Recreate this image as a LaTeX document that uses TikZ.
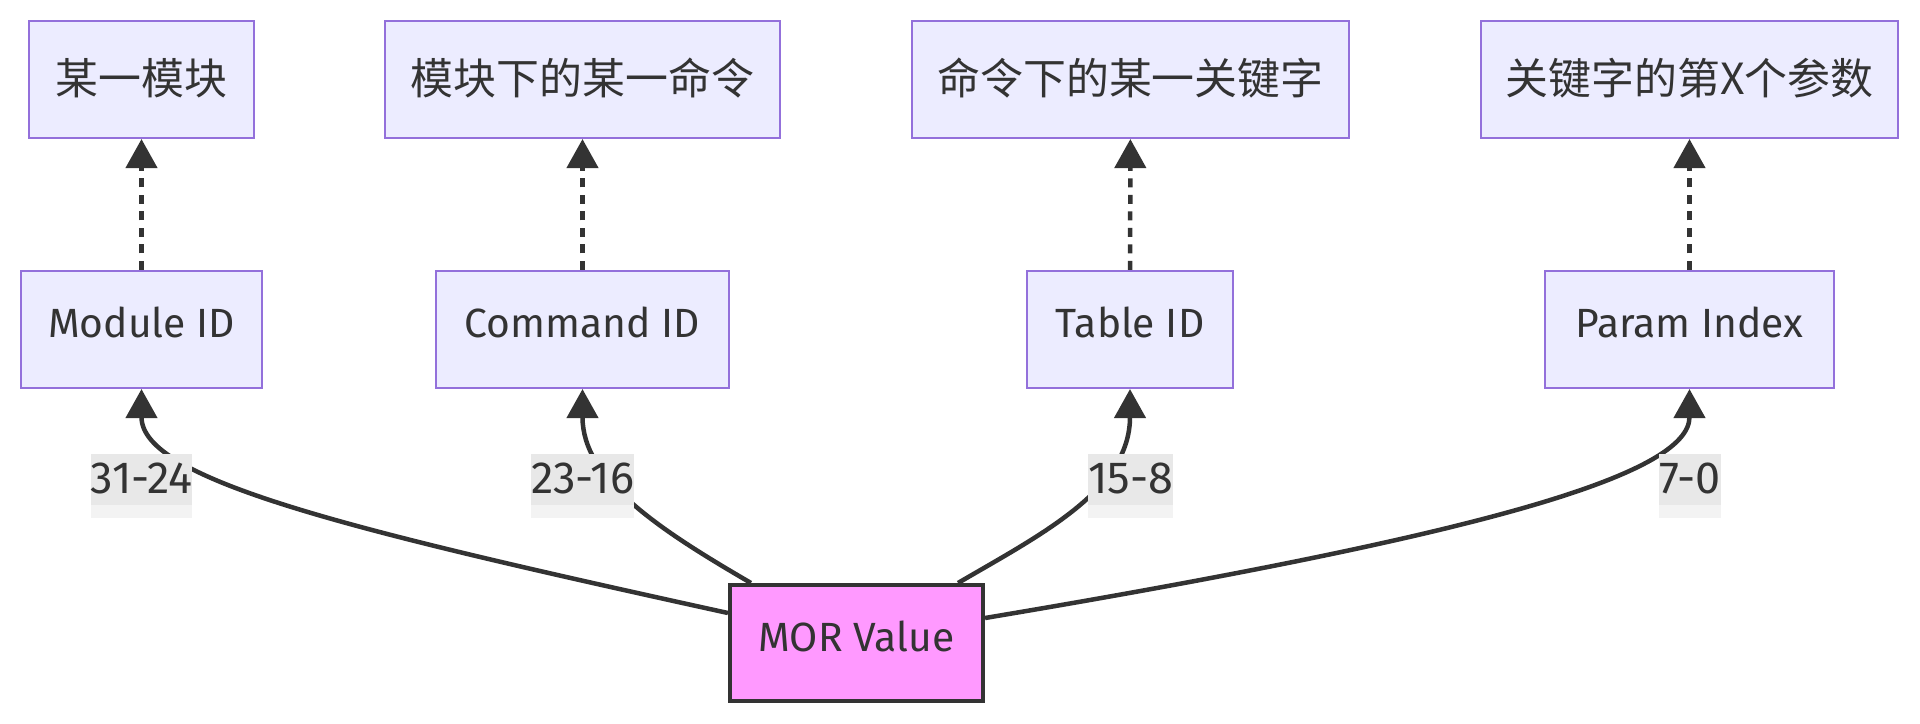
\documentclass[tikz,border=0pt]{standalone}
\usepackage{fontspec}
\setmainfont{Fira Sans}
\newfontfamily\cjk{Noto Sans CJK SC}
\usetikzlibrary{arrows.meta}
\definecolor{boxfill}{HTML}{ECECFF}
\definecolor{boxline}{HTML}{9370DB}
\definecolor{ink}{HTML}{333333}
\definecolor{morfill}{HTML}{FF99FF}
\definecolor{lbldark}{HTML}{E8E8E8}
\definecolor{lbllight}{HTML}{F3F3F3}

\begin{document}
\begin{tikzpicture}[x=0.01cm,y=-0.01cm,
    every node/.style={text=ink,font=\fontsize{11.6}{14}\selectfont},
    box/.style={draw=boxline,fill=boxfill,line width=0.02cm,inner xsep=0pt,inner ysep=0pt},
    topbox/.style={box,font=\cjk\fontsize{12.2}{14}\selectfont,text height=0.73cm,text depth=0.44cm},
    midbox/.style={box,text height=0.66cm,text depth=0.51cm},
    lbl/.style={font=\fontsize{12.8}{14}\selectfont,inner xsep=0pt,inner ysep=0pt,text height=0.39cm,text depth=0.25cm,fill=lbllight,
      path picture={\fill[lbldark] (path picture bounding box.north west) rectangle ([yshift=0.13cm]path picture bounding box.south east);}},
    edge/.style={ink,line width=0.045cm,-{Triangle[length=0.29cm,width=0.31cm]}},
    dots/.style={edge,dash pattern=on 0.09cm off 0.075cm}]
    \useasboundingbox (0,0) rectangle (1920,723);
    % top row
    \node[topbox,minimum width=2.25cm] (modname) at (141.5,79.5) {某一模块};
    \node[topbox,minimum width=3.95cm] (cmdname) at (582.5,79.5) {模块下的某一命令};
    \node[topbox,minimum width=4.37cm] (keyname) at (1130.5,79.5) {命令下的某一关键字};
    \node[topbox,minimum width=4.17cm] (parname) at (1689.5,79.5) {关键字的第X个参数};
    % middle row
    \node[midbox,minimum width=2.41cm] (modid) at (141.5,329.5) {Module ID};
    \node[midbox,minimum width=2.93cm] (cmdid) at (582.5,329.5) {Command ID};
    \node[midbox,minimum width=2.06cm] (tblid) at (1130,329.5) {Table ID};
    \node[midbox,minimum width=2.89cm] (parid) at (1689.5,329.5) {Param Index};
    \node[draw=ink,fill=morfill,line width=0.04cm,inner sep=0pt,minimum width=2.53cm,
      text height=0.66cm,text depth=0.50cm] (mor) at (856.5,643) {MOR Value};
    % dotted links
    \draw[dots] (modid) -- (modname);
    \draw[dots] (cmdid) -- (cmdname);
    \draw[dots] (tblid) -- (keyname);
    \draw[dots] (parid) -- (parname);
    % bit fields
    \draw[edge] ([yshift=0.3cm]mor.west) .. controls (350,530) and (141.5,480) .. (modid.south);
    \draw[edge] ([xshift=0.23cm]mor.north west) .. controls (660,530) and (582.5,480) .. (cmdid.south);
    \draw[edge] ([xshift=-0.27cm]mor.north east) .. controls (1040,535) and (1130,490) .. (tblid.south);
    \draw[edge] ([yshift=0.25cm]mor.east) .. controls (1480,535) and (1689.5,475) .. (parid.south);
    \node[lbl,anchor=base] (lmod) at (141.5,493) {31-24};
    \node[lbl,anchor=base] (lcmd) at (582.5,493) {23-16};
    \node[lbl,anchor=base] (ltbl) at (1130.5,493) {15-8};
    \node[lbl,anchor=base] (lpar) at (1690,493) {7-0};
\end{tikzpicture}
\end{document}
